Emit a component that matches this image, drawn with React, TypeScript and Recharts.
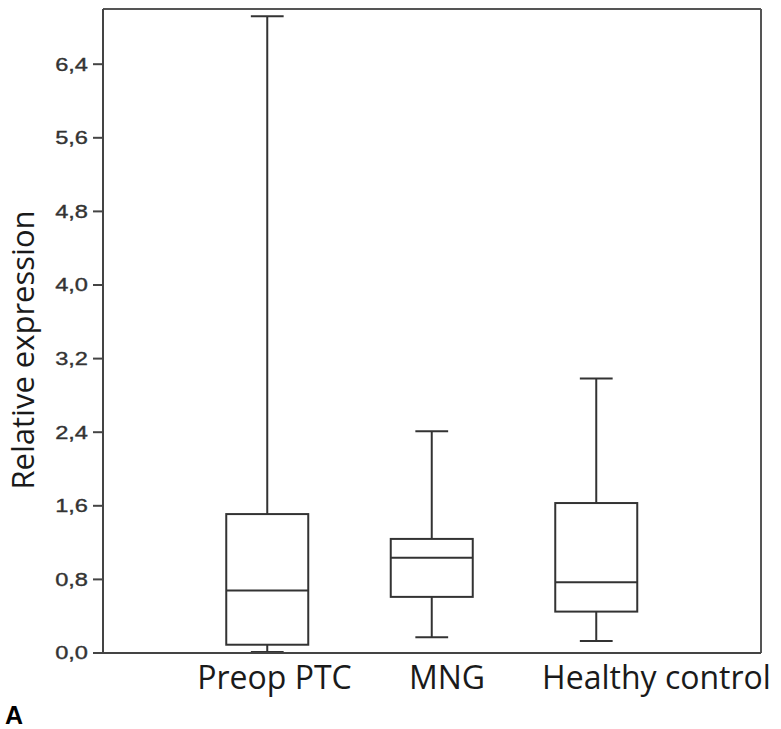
import React from 'react';
import { ComposedChart, Bar, XAxis, YAxis, ReferenceLine } from 'recharts';

const categories = ['Preop PTC', 'MNG', 'Healthy control'];
const whiskerLow = [0.01, 0.17, 0.13];
const q1Values = [0.09, 0.61, 0.45];
const medianValues = [0.68, 1.035, 0.77];
const q3Values = [1.51, 1.24, 1.63];
const whiskerHigh = [6.92, 2.41, 2.985];
const yTicks = [0, 0.8, 1.6, 2.4, 3.2, 4.0, 4.8, 5.6, 6.4];
const xTicks = [1, 2, 3];

const data = categories.map((name, i) => ({
  name,
  pos: i + 1,
  min: whiskerLow[i],
  q1: q1Values[i],
  median: medianValues[i],
  q3: q3Values[i],
  max: whiskerHigh[i],
}));

const STROKE = '#333';

const BoxShape = (props: any) => {
  const { x, y, width, height, index } = props;
  const p = props.payload && props.payload.q1 !== undefined ? props.payload : data[index];
  const top = Math.min(y, y + height);
  const bottom = Math.max(y, y + height);
  const cx = x + width / 2;
  const span = p.max - p.min;
  const py = (v: number) => bottom - ((v - p.min) / span) * (bottom - top);
  const capHalf = width * 0.2;
  const yq1 = py(p.q1);
  const yq3 = py(p.q3);
  const ymed = py(p.median);
  return (
    <g stroke={STROKE} strokeWidth={2} fill="none">
      <line x1={cx} x2={cx} y1={top} y2={yq3} />
      <line x1={cx} x2={cx} y1={yq1} y2={bottom} />
      <line x1={cx - capHalf} x2={cx + capHalf} y1={top} y2={top} />
      <line x1={cx - capHalf} x2={cx + capHalf} y1={bottom} y2={bottom} />
      <rect x={x} y={yq3} width={width} height={yq1 - yq3} fill="none" />
      <line x1={x} x2={x + width} y1={ymed} y2={ymed} />
    </g>
  );
};

const labelShift = [7, 15, 60];

const XTick = (props: any) => {
  const { x, payload, index } = props;
  const i = typeof index === 'number' ? index : payload.value - 1;
  return (
    <text
      x={x + labelShift[i]}
      y={688.5}
      textAnchor="middle"
      fontFamily="'Open Sans', sans-serif"
      fontSize={32}
      fill="#1a1a1a"
    >
      {categories[payload.value - 1]}
    </text>
  );
};

const YTick = (props: any) => {
  const { x, y, payload } = props;
  const label = Number(payload.value).toFixed(1).replace('.', ',');
  return (
    <text
      transform={`translate(${x},${y}) scale(1.35,1)`}
      textAnchor="end"
      dy="0.36em"
      fontFamily="'Liberation Sans', Arial, sans-serif"
      fontSize={17.5}
      fill="#333"
      stroke="#333"
      strokeWidth={0.35}
    >
      {label}
    </text>
  );
};

const YLabel = (props: any) => {
  const vb = props.viewBox || { x: 0, y: 9, width: 103, height: 644 };
  const cx = vb.x + 33.5;
  const cy = vb.y + vb.height / 2 + 19;
  return (
    <text
      x={cx}
      y={cy}
      transform={`rotate(-90, ${cx}, ${cy})`}
      textAnchor="middle"
      fontFamily="'Open Sans', sans-serif"
      fontSize={31}
      fill="#1a1a1a"
    >
      Relative expression
    </text>
  );
};

export default function App() {
  return (
    <div style={{ position: 'absolute', left: 0, top: 0, width: 781, height: 729, background: '#fff' }}>
      <ComposedChart
        width={781}
        height={729}
        data={data}
        margin={{ top: 9, right: 20, left: 0, bottom: 16 }}
      >
        <XAxis
          dataKey="pos"
          type="number"
          domain={[0, 4]}
          ticks={xTicks}
          tick={<XTick />}
          tickLine={false}
          height={60}
          axisLine={{ stroke: '#444', strokeWidth: 2 }}
          interval={0}
        />
        <YAxis
          type="number"
          domain={[0, 7]}
          ticks={yTicks}
          tick={<YTick />}
          tickSize={10}
          tickMargin={5}
          tickLine={{ stroke: '#444', strokeWidth: 2 }}
          axisLine={{ stroke: '#444', strokeWidth: 2 }}
          width={103}
          interval={0}
          label={<YLabel />}
        />
        <ReferenceLine y={7} stroke="#555" strokeWidth={2} />
        <ReferenceLine x={4} stroke="#555" strokeWidth={2} />
        <Bar
          dataKey={(d: any) => [d.min, d.max]}
          barSize={82}
          shape={<BoxShape />}
          isAnimationActive={false}
        />
      </ComposedChart>
      <div
        style={{
          position: 'absolute',
          left: 5,
          top: 703,
          fontFamily: "'Liberation Sans', Arial, sans-serif",
          fontWeight: 'bold',
          fontSize: 25,
          lineHeight: '25px',
          color: '#000',
        }}
      >
        A
      </div>
    </div>
  );
}
